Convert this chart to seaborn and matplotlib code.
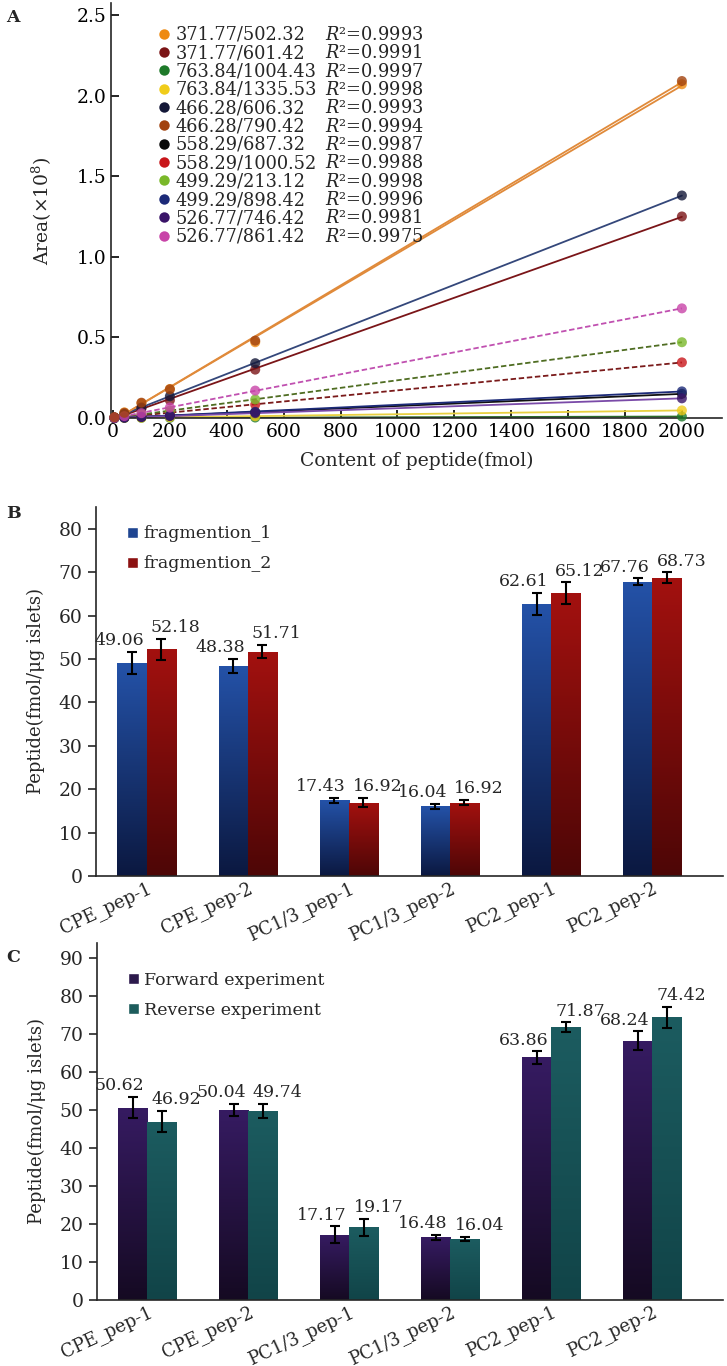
import numpy as np
import pandas as pd
import matplotlib
matplotlib.use("Agg")
import matplotlib.pyplot as plt
import seaborn as sns
from matplotlib.colors import LinearSegmentedColormap
from matplotlib.patches import Patch
from matplotlib.lines import Line2D

# ---------------- data ----------------
# panel A: calibration curves (area x 1e8 vs peptide content in fmol)
conc = [5, 40, 100, 200, 500, 2000]
transitions = ["371.77/502.32", "371.77/601.42", "763.84/1004.43", "763.84/1335.53",
               "466.28/606.32", "466.28/790.42", "558.29/687.32", "558.29/1000.52",
               "499.29/213.12", "499.29/898.42", "526.77/746.42", "526.77/861.42"]
r2_values = ["0.9993", "0.9991", "0.9997", "0.9998", "0.9993", "0.9994",
             "0.9987", "0.9988", "0.9998", "0.9996", "0.9981", "0.9975"]
area_values = [
    [0.004, 0.035, 0.092, 0.180, 0.470, 2.070],   # 371.77/502.32
    [0.003, 0.022, 0.058, 0.110, 0.300, 1.250],   # 371.77/601.42
    [0.000, 0.000, 0.001, 0.001, 0.003, 0.009],   # 763.84/1004.43
    [0.000, 0.001, 0.002, 0.005, 0.011, 0.047],   # 763.84/1335.53
    [0.003, 0.025, 0.065, 0.135, 0.340, 1.380],   # 466.28/606.32
    [0.005, 0.032, 0.095, 0.178, 0.480, 2.090],   # 466.28/790.42
    [0.000, 0.003, 0.007, 0.014, 0.036, 0.150],   # 558.29/687.32
    [0.001, 0.006, 0.016, 0.033, 0.083, 0.345],   # 558.29/1000.52
    [0.001, 0.008, 0.022, 0.045, 0.115, 0.470],   # 499.29/213.12
    [0.000, 0.003, 0.008, 0.016, 0.038, 0.165],   # 499.29/898.42
    [0.000, 0.002, 0.006, 0.012, 0.030, 0.122],   # 526.77/746.42
    [0.002, 0.012, 0.030, 0.065, 0.170, 0.680],   # 526.77/861.42
]
marker_colors = ["#ee8a12", "#7b1416", "#1e7a2a", "#f0cc1a", "#141838", "#a2420e",
                 "#0a0a0a", "#c8161a", "#7ab82a", "#1c2a78", "#3a1468", "#c844a8"]
line_colors = ["#e08a3a", "#7a1518", "#2a6a2a", "#e8d040", "#34477a", "#e08a3a",
               "#111111", "#7a1a1a", "#4f6d22", "#1c2a78", "#7a4aa8", "#c050b0"]
dashed = [False, False, False, False, False, False, False, True, True, False, False, True]

# panel B: two fragmentions
peptides = ["CPE_pep-1", "CPE_pep-2", "PC1/3_pep-1", "PC1/3_pep-2", "PC2_pep-1", "PC2_pep-2"]
frag1 = [49.06, 48.38, 17.43, 16.04, 62.61, 67.76]
frag1_err = [2.5, 1.7, 0.55, 0.6, 2.6, 0.8]
frag2 = [52.18, 51.71, 16.92, 16.92, 65.12, 68.73]
frag2_err = [2.5, 1.5, 1.0, 0.55, 2.5, 1.2]

# panel C: forward / reverse experiment
forward = [50.62, 50.04, 17.17, 16.48, 63.86, 68.24]
forward_err = [2.8, 1.5, 2.2, 0.6, 1.6, 2.5]
reverse = [46.92, 49.74, 19.17, 16.04, 71.87, 74.42]
reverse_err = [2.8, 1.8, 2.2, 0.6, 1.2, 2.8]

# ---------------- style ----------------
sns.set_style("ticks")
plt.rcParams["font.family"] = ["DejaVu Serif"]
plt.rcParams["mathtext.fontset"] = "dejavuserif"
plt.rcParams["axes.linewidth"] = 1.2

W, H = 727, 1366
fig = plt.figure(figsize=(W / 100, H / 100), dpi=100)


def px_axes(left, top, right, bottom):
    return fig.add_axes([left / W, 1 - bottom / H, (right - left) / W, (bottom - top) / H])


# ---------------- panel A ----------------
axA = px_axes(111, 3, 722, 418)
order = [0, 1, 2, 3, 4, 6, 7, 8, 9, 10, 11, 5]
for i in order:
    ls = (0, (3, 1.5)) if dashed[i] else "-"
    sns.regplot(x=conc, y=area_values[i], ci=None, ax=axA, truncate=True,
                scatter_kws=dict(s=52, color=marker_colors[i], edgecolor="none",
                                 zorder=3, clip_on=False),
                line_kws=dict(color=line_colors[i], lw=1.3, ls=ls, zorder=2))
axA.set_xlim(-7, 2141)
axA.set_ylim(0, 2.574)
axA.set_xticks(range(0, 2001, 200))
axA.set_yticks([0, 0.5, 1.0, 1.5, 2.0, 2.5])
axA.set_yticklabels(["0.0", "0.5", "1.0", "1.5", "2.0", "2.5"])
axA.tick_params(direction="in", length=6, width=1.2, labelsize=13.5, colors="black")
axA.set_xlabel("Content of peptide(fmol)", fontsize=13.5, labelpad=8)
axA.set_ylabel("Area(×10$^8$)", fontsize=13.5, labelpad=16)
sns.despine(ax=axA)

handles = [Line2D([], [], ls="none", marker="o", markersize=7.5, color=c, markeredgecolor="none")
           for c in marker_colors]
leg1 = axA.legend(handles, transitions, loc="upper left", bbox_to_anchor=(0.078, 0.945),
                  frameon=False, fontsize=12.8, labelspacing=0.02, handlelength=0.6,
                  handletextpad=0.35, borderpad=0, borderaxespad=0)
axA.add_artist(leg1)
blank = [Line2D([], [], ls="none") for _ in r2_values]
axA.legend(blank, ["$R$²=" + v for v in r2_values], loc="upper left",
           bbox_to_anchor=(0.350, 0.945), frameon=False, fontsize=12.8,
           labelspacing=0.02, handlelength=0, handletextpad=0, borderpad=0,
           borderaxespad=0)


# ---------------- bar panels ----------------
def bar_panel(ax, a, a_err, b, b_err, names, colors, grads, ymax, yticks, legend_y):
    df = pd.DataFrame({"peptide": peptides * 2,
                       "value": a + b,
                       "group": [names[0]] * len(a) + [names[1]] * len(b)})
    sns.barplot(data=df, x="peptide", y="value", hue="group", palette=colors,
                width=0.575, errorbar=None, ax=ax, legend=False)
    grad = np.linspace(0, 1, 256).reshape(-1, 1)
    errs = [a_err, b_err]
    vals = [a, b]
    bar_groups = list(ax.containers)[:2]
    for k, cont in enumerate(bar_groups):
        cmap = LinearSegmentedColormap.from_list("g%d" % k, [grads[k][1], grads[k][0]])
        for j, bar in enumerate(cont):
            x0, w, h = bar.get_x(), bar.get_width(), bar.get_height()
            im = ax.imshow(grad, extent=[x0, x0 + w, 0, h], origin="lower", cmap=cmap,
                           aspect="auto", zorder=1)
            im.set_clip_path(bar)
            bar.set_facecolor("none")
            bar.set_edgecolor("none")
            xc = x0 + w / 2
            ax.errorbar(xc, vals[k][j], yerr=errs[k][j], fmt="none", ecolor="black",
                        elinewidth=1.5, capsize=3.5, capthick=1.5, zorder=4)
            top = vals[k][j] + errs[k][j]
            if k == 0:
                ax.annotate("%.2f" % vals[k][j], (x0 + w, top), xytext=(-2, 2),
                            textcoords="offset points", ha="right", va="bottom",
                            fontsize=12.5)
            else:
                ax.annotate("%.2f" % vals[k][j], (x0, top), xytext=(3, 2),
                            textcoords="offset points", ha="left", va="bottom",
                            fontsize=12.5)
    ax.set_xlim(-0.5, 5.7)
    ax.set_ylim(0, ymax)
    ax.set_yticks(yticks)
    ax.set_xlabel("")
    ax.set_ylabel("Peptide(fmol/μg islets)", fontsize=13, labelpad=10)
    ax.tick_params(axis="y", direction="out", length=6, width=1.2, labelsize=13.5)
    ax.tick_params(axis="x", length=0, labelsize=13, pad=2)
    for lab in ax.get_xticklabels():
        lab.set_rotation(25)
        lab.set_ha("right")
        lab.set_rotation_mode("anchor")
    sns.despine(ax=ax)
    hs = [Patch(facecolor=c) for c in colors]
    ax.legend(hs, names, loc="upper left", bbox_to_anchor=(0.05, legend_y), frameon=False,
              fontsize=12.5, labelspacing=0.75, handlelength=0.6, handleheight=0.6,
              handletextpad=0.3, borderpad=0, borderaxespad=0)


axB = px_axes(96, 507, 723, 876)
bar_panel(axB, frag1, frag1_err, frag2, frag2_err, ["fragmention_1", "fragmention_2"],
          ["#1f4591", "#8c1111"],
          [("#2452a8", "#0b1840"), ("#a3110f", "#4d0606")],
          85, range(0, 81, 10), 0.95)

axC = px_axes(97, 943, 723, 1300)
bar_panel(axC, forward, forward_err, reverse, reverse_err,
          ["Forward experiment", "Reverse experiment"],
          ["#2c1a4c", "#1d5c5c"],
          [("#361b62", "#150a22"), ("#1c5c60", "#114448")],
          94, range(0, 91, 10), 0.92)

# panel letters
for letter, ypx in [("A", 18), ("B", 514), ("C", 957)]:
    fig.text(6 / W, 1 - ypx / H, letter, fontsize=12.5, fontweight="bold", va="center")

fig.savefig("out.png", dpi=100)
